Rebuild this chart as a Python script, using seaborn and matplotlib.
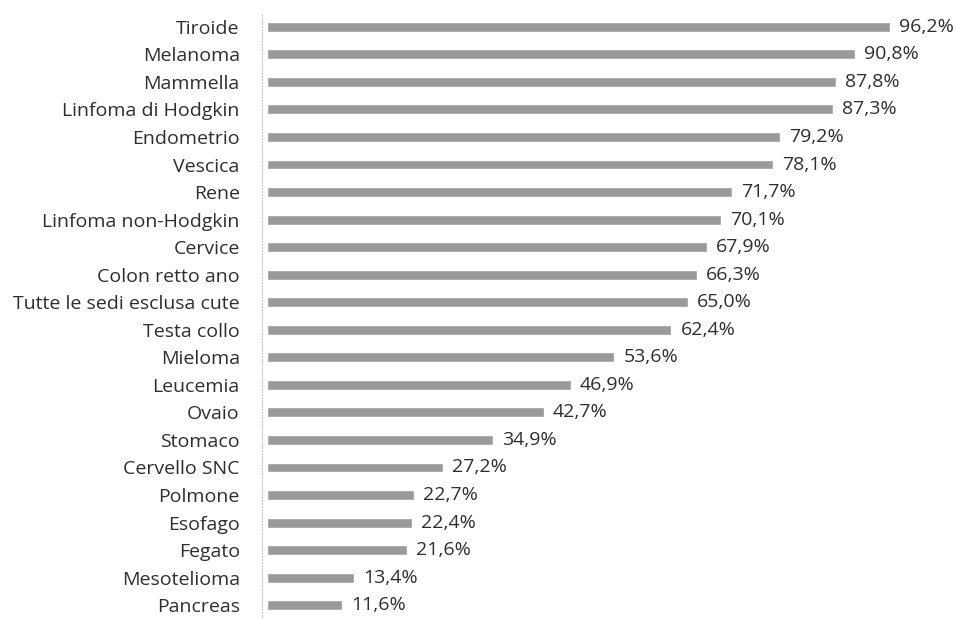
import pandas as pd
import matplotlib.pyplot as plt
import seaborn as sns

sedi = ['Tiroide', 'Melanoma', 'Mammella', 'Linfoma di Hodgkin', 'Endometrio',
        'Vescica', 'Rene', 'Linfoma non-Hodgkin', 'Cervice', 'Colon retto ano',
        'Tutte le sedi esclusa cute', 'Testa collo', 'Mieloma', 'Leucemia',
        'Ovaio', 'Stomaco', 'Cervello SNC', 'Polmone', 'Esofago', 'Fegato',
        'Mesotelioma', 'Pancreas']
valori = [96.2, 90.8, 87.8, 87.3, 79.2, 78.1, 71.7, 70.1, 67.9, 66.3, 65.0,
          62.4, 53.6, 46.9, 42.7, 34.9, 27.2, 22.7, 22.4, 21.6, 13.4, 11.6]

df = pd.DataFrame({'sede': sedi, 'valore': valori})

sns.set_style('white')
plt.rcParams['font.family'] = ['Open Sans', 'DejaVu Sans']

fig = plt.figure(figsize=(9.57, 6.19), dpi=100)
ax = fig.add_axes([262 / 957, 0.0, 1 - 262 / 957, 1 - 13 / 619])

sns.barplot(data=df, x='valore', y='sede', orient='h', color='#9a9a9a',
            width=0.36, saturation=1, ax=ax)

# etichette dei valori con la virgola decimale
for i, v in enumerate(valori):
    ax.text(v + 1.4, i, f'{v:.1f}%'.replace('.', ','), va='center', ha='left',
            fontsize=14, color='#2e2e2e')

ax.set_xlim(-0.8, 106.5)
ax.set_ylim(21.5, -0.5)
ax.set_xlabel('')
ax.set_ylabel('')
ax.set_xticks([])
ax.tick_params(axis='y', length=0, pad=16, labelsize=14, labelcolor='#2e2e2e')
for s in ['top', 'right', 'bottom']:
    ax.spines[s].set_visible(False)
ax.spines['left'].set_color('#c8c8c8')
ax.spines['left'].set_linestyle(':')
ax.spines['left'].set_linewidth(0.8)

plt.savefig('out.png', dpi=100)
plt.close()
